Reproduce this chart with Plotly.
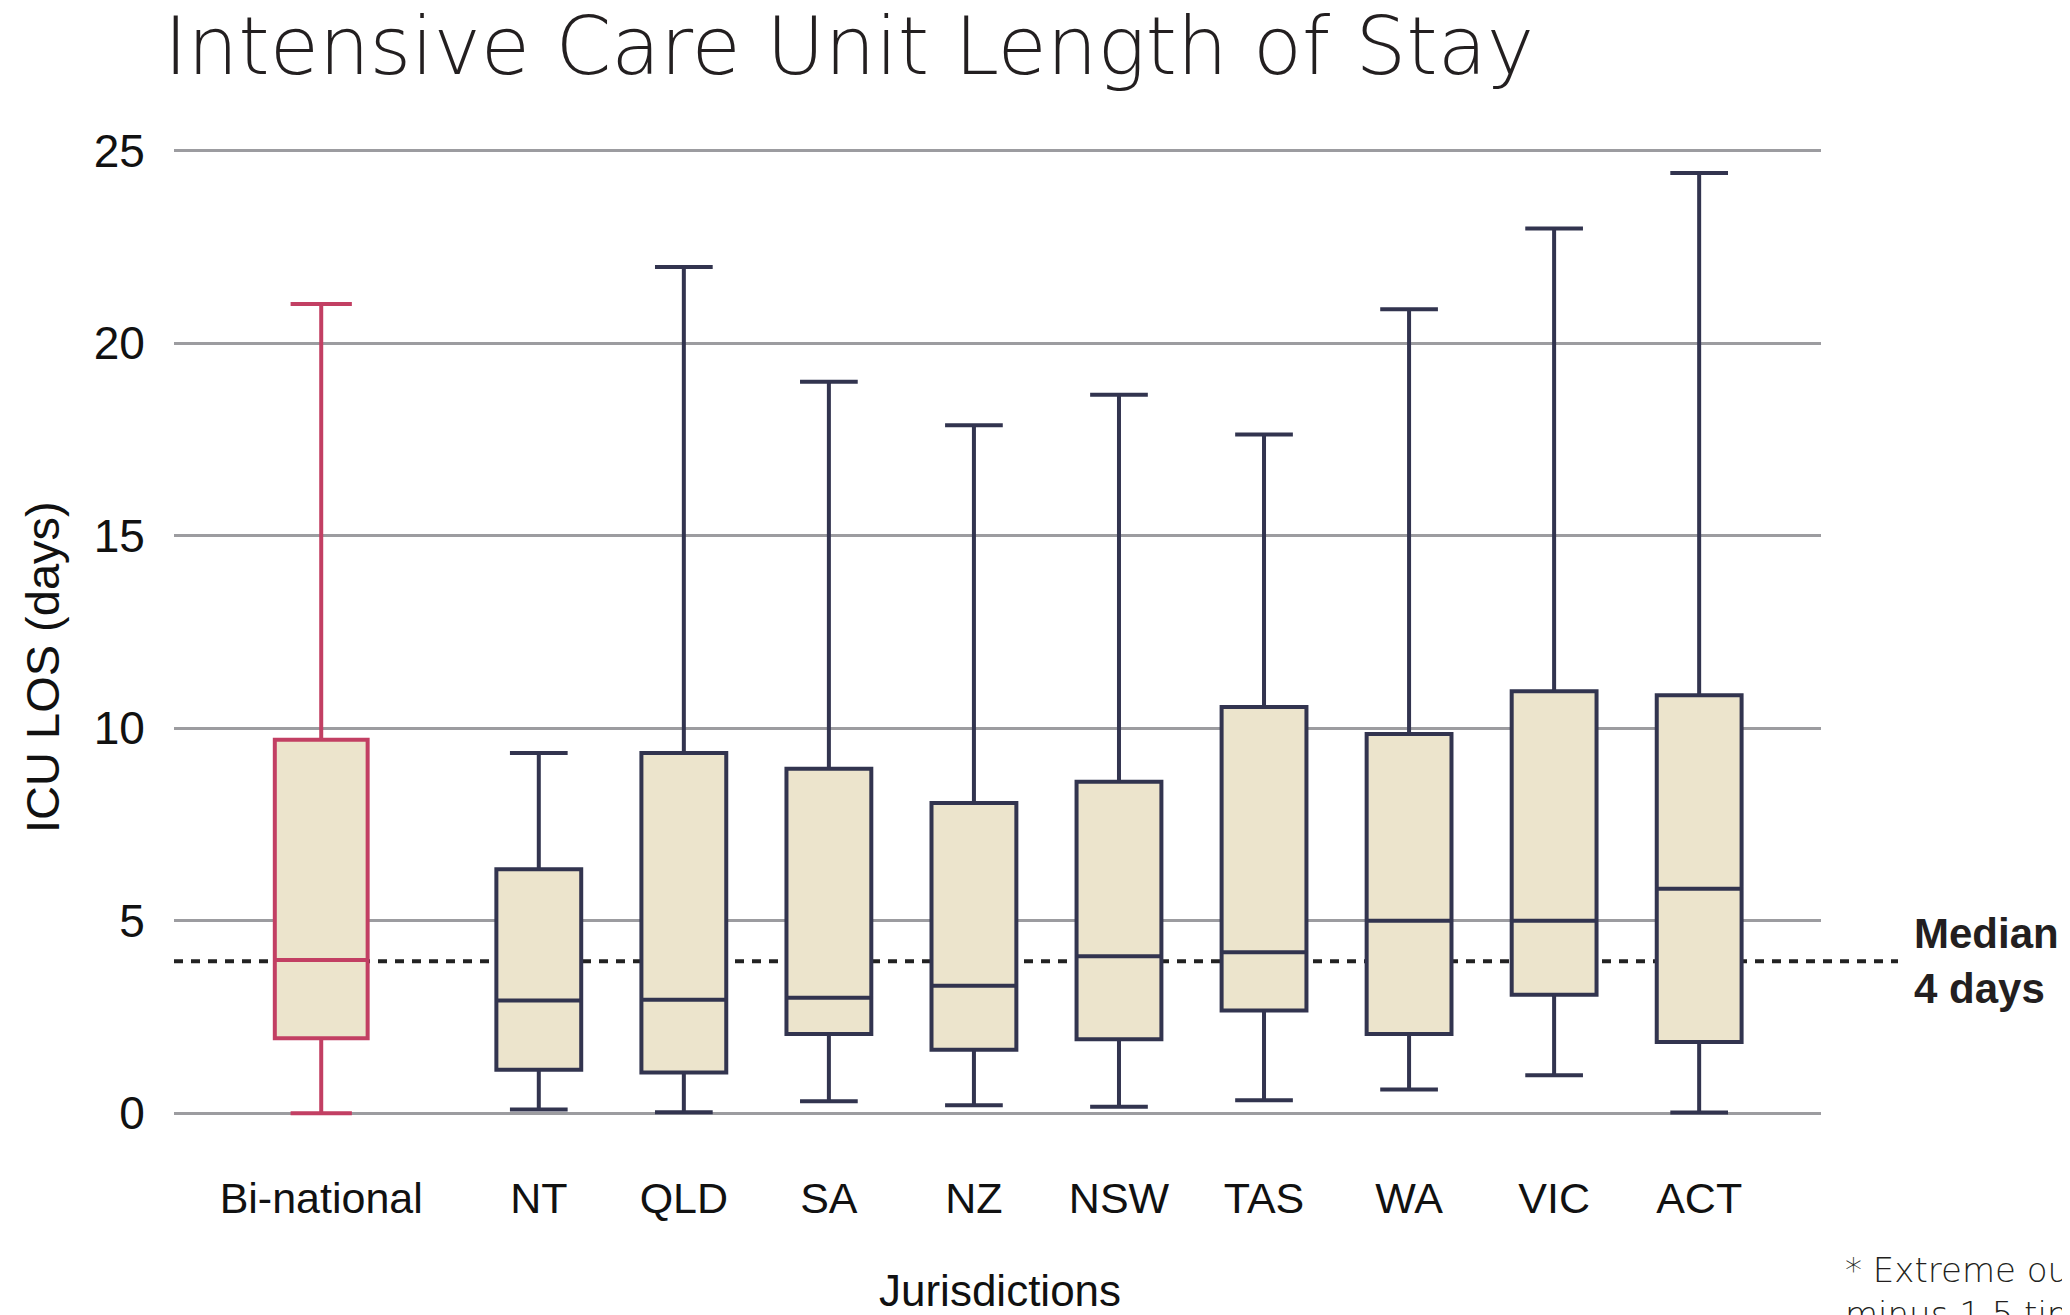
import plotly.graph_objects as go

# ---------------- data ----------------
categories = ["Bi-national", "NT", "QLD", "SA", "NZ", "NSW", "TAS", "WA", "VIC", "ACT"]
lower_whisker = [0.0, 0.10, 0.03, 0.31, 0.21, 0.17, 0.34, 0.62, 0.99, 0.02]
q1_values = [1.95, 1.13, 1.06, 2.06, 1.65, 1.92, 2.67, 2.06, 3.08, 1.85]
median_values = [3.98, 2.93, 2.95, 3.00, 3.31, 4.08, 4.18, 5.00, 5.00, 5.83]
q3_values = [9.70, 6.34, 9.36, 8.95, 8.06, 8.61, 10.55, 9.85, 10.96, 10.86]
upper_whisker = [21.02, 9.36, 21.98, 19.00, 17.87, 18.66, 17.63, 20.88, 22.98, 24.42]
overall_median = 3.95
y_ticks = [0, 5, 10, 15, 20, 25]

# ---------------- styling ----------------
NAVY = "#32344F"
PINK = "#C23F63"
FILL = "#ECE4CC"
GRID = "#9C9CA0"
AXIS_FONT = "Liberation Sans, Arial, sans-serif"
THIN_FONT = "DejaVu Sans, Open Sans, sans-serif"

# x positions: gap between the bi-national box and the jurisdictions
positions = [0.0] + [1.5 + i for i in range(len(categories) - 1)]

fig = go.Figure()

# Bi-national box
fig.add_trace(go.Box(
    x=[positions[0]],
    q1=[q1_values[0]], median=[median_values[0]], q3=[q3_values[0]],
    lowerfence=[lower_whisker[0]], upperfence=[upper_whisker[0]],
    width=0.64, whiskerwidth=0.66,
    fillcolor=FILL, line=dict(color=PINK, width=4),
    boxpoints=False, hoverinfo="skip", showlegend=False,
))

# Jurisdiction boxes
fig.add_trace(go.Box(
    x=positions[1:],
    q1=q1_values[1:], median=median_values[1:], q3=q3_values[1:],
    lowerfence=lower_whisker[1:], upperfence=upper_whisker[1:],
    width=0.585, whiskerwidth=0.68,
    fillcolor=FILL, line=dict(color=NAVY, width=4),
    boxpoints=False, hoverinfo="skip", showlegend=False,
))

# page offset of the figure inside the page (default body margin)
OFF = 8
W, H = 2070, 1315
# target plot area in page pixels
PL, PR, PT, PB = 174, 1821, 143, 1121
L = PL - OFF
T = PT - OFF
R = W - (PR - OFF)
B = H - (PB - OFF)
PW = PR - PL
PH = PB - PT


def px_x(px):
    return (px - PL) / PW


def px_y(py):
    return (PB - py) / PH


# Median reference dotted line
fig.add_shape(
    type="line", xref="paper", yref="y",
    x0=0, x1=px_x(1898), y0=overall_median, y1=overall_median,
    line=dict(color="#222222", width=4, dash="9px,8px"),
    layer="below",
)

annotations = [
    # Title
    dict(text="Intensive Care Unit Length of Stay", xref="paper", yref="paper",
         x=px_x(162), y=px_y(47), xanchor="left", yanchor="middle", showarrow=False,
         font=dict(family=THIN_FONT, size=80, color="#231F20", weight=200)),
    # y-axis title
    dict(text="ICU LOS (days)", xref="paper", yref="paper",
         x=px_x(42), y=px_y(667), xanchor="center", yanchor="middle", textangle=-90,
         showarrow=False, font=dict(family=AXIS_FONT, size=47, color="#111111")),
    # x-axis title
    dict(text="Jurisdictions", xref="paper", yref="paper",
         x=px_x(1000), y=px_y(1290), xanchor="center", yanchor="middle",
         showarrow=False, font=dict(family=AXIS_FONT, size=44, color="#111111")),
    # Median label
    dict(text="<b>Median</b><br><b>4 days</b>", xref="paper", yref="y",
         x=px_x(1912), y=overall_median, xanchor="left", yanchor="middle", align="left",
         showarrow=False, font=dict(family=AXIS_FONT, size=42, color="#231F20")),
    # Footnote
    dict(text="* Extreme outliers (above upper quartile plus 1.5 times IQR or below lower quartile<br>minus 1.5 times IQR) not shown",
         xref="paper", yref="paper", x=px_x(1843), y=px_y(1248), xanchor="left", yanchor="top",
         align="left", showarrow=False,
         font=dict(family=THIN_FONT, size=34, color="#231F20", weight=200)),
]

fig.update_layout(
    width=W, height=H,
    margin=dict(l=L, r=R, t=T, b=B, autoexpand=False),
    paper_bgcolor="white", plot_bgcolor="white",
    boxmode="overlay",
    annotations=annotations,
    xaxis=dict(
        range=[-1.015, 10.34],
        tickmode="array", tickvals=positions, ticktext=categories,
        showgrid=False, zeroline=False, showline=False,
        ticks="outside", ticklen=39, tickcolor="rgba(0,0,0,0)",
        tickfont=dict(family=AXIS_FONT, size=43, color="#111111"),
    ),
    yaxis=dict(
        range=[-0.2, 25.2],
        tickmode="array", tickvals=y_ticks,
        showgrid=True, gridcolor=GRID, gridwidth=2.5,
        zeroline=False, showline=False,
        ticks="outside", ticklen=19, tickcolor="rgba(0,0,0,0)",
        tickfont=dict(family=AXIS_FONT, size=46, color="#111111"),
    ),
)

fig.write_html("out.html")
